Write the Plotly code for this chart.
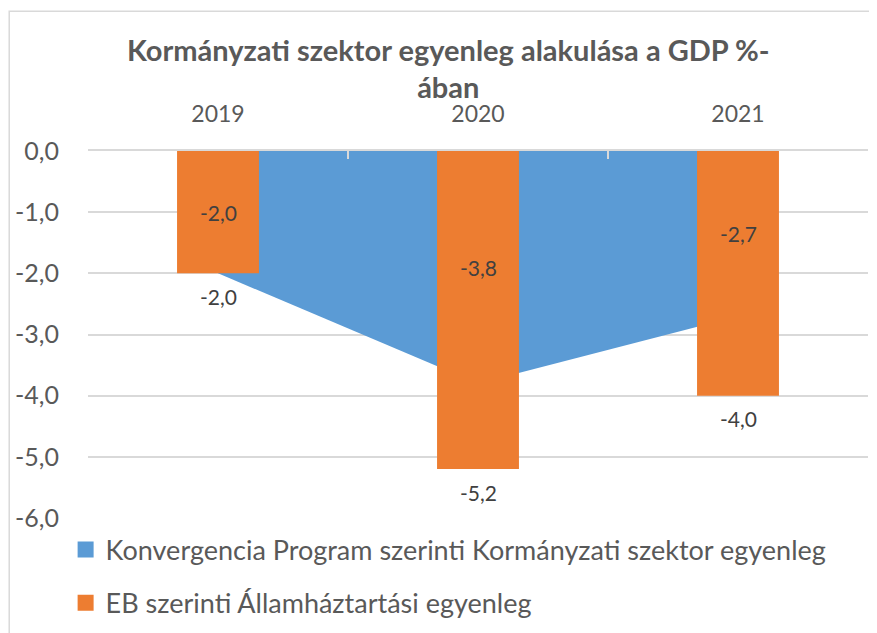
import plotly.graph_objects as go

years = ["2019", "2020", "2021"]
kp_values = [-2.0, -3.8, -2.7]      # Konvergencia Program (area)
eb_values = [-2.0, -5.2, -4.0]      # EB (bars)
series_names = ["Konvergencia Program szerinti Kormányzati szektor egyenleg",
                "EB szerinti Államháztartási egyenleg"]
y_ticks = [0, -1, -2, -3, -4, -5, -6]


def fmt(v):
    return f"{v:.1f}".replace(".", ",")


BLUE = "#5B9BD5"
ORANGE = "#ED7D31"
FONT = "Lato"

fig = go.Figure()

fig.add_trace(go.Scatter(
    x=years, y=kp_values, mode="lines", fill="tozeroy",
    fillcolor=BLUE, line=dict(width=0, color=BLUE),
    showlegend=False, hoverinfo="skip"))

fig.add_trace(go.Bar(
    x=years, y=eb_values, width=0.315, yaxis="y2",
    marker=dict(color=ORANGE, line=dict(width=0)),
    showlegend=False))

# legend entries
for name, col in zip(series_names, [BLUE, ORANGE]):
    fig.add_trace(go.Scatter(
        x=[None], y=[None], mode="markers", name=name, legendgroup=name,
        marker=dict(symbol="square", size=17, color=col)))

annotations = []
for i, v in enumerate(kp_values):
    annotations.append(dict(x=i, y=v / 2, xref="x", yref="y", text=fmt(v),
                            showarrow=False, font=dict(family=FONT, size=21, color="#404040")))
for i, v in enumerate(eb_values):
    annotations.append(dict(x=i, y=v, yshift=-23, xref="x", yref="y", text=fmt(v),
                            showarrow=False, font=dict(family=FONT, size=21, color="#404040")))

fig.update_layout(
    width=877, height=633,
    margin=dict(l=80, r=17, t=143, b=123, autoexpand=False),
    paper_bgcolor="white", plot_bgcolor="white",
    barmode="overlay",
    title=dict(text="<b>Kormányzati szektor egyenleg alakulása a GDP %-<br>ában</b>",
               x=0.502, xanchor="center", y=0.917, yanchor="middle",
               font=dict(family=FONT, size=29, color="#595959")),
    font=dict(family=FONT, color="#595959"),
    xaxis=dict(type="category", side="top", tickson="boundaries", ticks="inside",
               ticklen=8, tickcolor="#D9D9D9", tickwidth=1.5,
               showline=True, linecolor="#D9D9D9", linewidth=1.5,
               showgrid=False, ticklabelstandoff=18, automargin=False,
               tickfont=dict(family=FONT, size=23, color="#595959"),
               range=[-0.5, 2.5]),
    yaxis=dict(range=[-6, 0], tickvals=y_ticks, ticktext=[fmt(v) for v in y_ticks],
               showgrid=True, gridcolor="#D9D9D9", gridwidth=1.5,
               zeroline=False, showline=False, ticks="",
               ticklabelstandoff=28, automargin=False,
               tickfont=dict(family=FONT, size=25, color="#595959")),
    yaxis2=dict(range=[-6, 0], overlaying="y", visible=False, automargin=False),
    legend=dict(x=-0.0287, y=-0.0205, xanchor="left", yanchor="top",
                orientation="v", itemsizing="trace", tracegroupgap=15,
                font=dict(family=FONT, size=27, color="#595959"),
                bgcolor="rgba(0,0,0,0)"),
    annotations=annotations,
    shapes=[dict(type="rect", xref="paper", yref="paper",
                 x0=-0.101, x1=1.05, y0=-0.36, y1=1.381,
                 line=dict(color="#D9D9D9", width=1.5), layer="below")],
)

fig.write_html("out.html")
